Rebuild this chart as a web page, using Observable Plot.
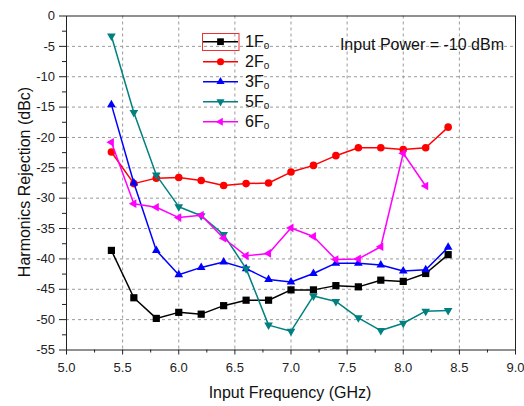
<!DOCTYPE html>
<html><head><meta charset="utf-8">
<script src="https://cdn.jsdelivr.net/npm/d3@7"></script>
<script src="https://cdn.jsdelivr.net/npm/@observablehq/plot@0.6"></script>
<style>
html,body{margin:0;padding:0;background:#fff;}
#chart{width:524px;height:406px;}
</style></head>
<body><div id="chart"></div>
<script>
// ---- data ----
const freq = [5.4, 5.6, 5.8, 6.0, 6.2, 6.4, 6.6, 6.8, 7.0, 7.2, 7.4, 7.6, 7.8, 8.0, 8.2, 8.4];
const f1 = [-38.6, -46.4, -49.8, -48.8, -49.1, -47.7, -46.8, -46.8, -45.1, -45.1, -44.4, -44.6, -43.5, -43.7, -42.4, -39.3];
const f2 = [-22.4, -27.6, -26.7, -26.6, -27.1, -27.9, -27.6, -27.5, -25.7, -24.6, -23.0, -21.7, -21.7, -22.0, -21.7, -18.3];
const f3 = [-14.6, -27.5, -38.6, -42.6, -41.4, -40.5, -41.6, -43.4, -43.8, -42.4, -40.7, -40.7, -41.0, -42.0, -41.8, -38.1];
const f5 = [-3.3, -15.9, -26.2, -31.4, -32.9, -36.0, -41.6, -50.9, -51.9, -46.1, -47.0, -49.7, -51.8, -50.6, -48.6, -48.5];
const f6 = [-20.8, -30.9, -31.5, -33.2, -32.8, -36.6, -39.5, -39.1, -34.9, -36.3, -40.1, -40.0, -38.0, -22.6, -28.0];
const seriesNames = ["1F", "2F", "3F", "5F", "6F"];
const seriesValues = [f1, f2, f3, f5, f6];
const seriesColors = ["#000000", "#ff0000", "#0000ff", "#008080", "#ff00ff"];
const xTicks = [5.0, 5.5, 6.0, 6.5, 7.0, 7.5, 8.0, 8.5, 9.0];
const xMinor = [5.25, 5.75, 6.25, 6.75, 7.25, 7.75, 8.25, 8.75];
const yTicks = [0, -5, -10, -15, -20, -25, -30, -35, -40, -45, -50, -55];
const yMinor = [-2.5, -7.5, -12.5, -17.5, -22.5, -27.5, -32.5, -37.5, -42.5, -47.5, -52.5];
const xTitle = "Input Frequency (GHz)";
const yTitle = "Harmonics Rejection (dBc)";
const note = "Input Power = -10 dBm";

// ---- symbols ----
function tri(a0, k) {
  return {draw(ctx, size) {
    const R = Math.sqrt(size / Math.PI) * k;
    for (let i = 0; i < 3; i++) {
      const a = a0 + i * 2 * Math.PI / 3;
      const x = R * Math.cos(a), y = R * Math.sin(a);
      i ? ctx.lineTo(x, y) : ctx.moveTo(x, y);
    }
    ctx.closePath();
  }};
}
const sqr = {draw(ctx, size) { const h = Math.sqrt(size / Math.PI) * 0.9; ctx.rect(-h, -h, 2 * h, 2 * h); }};
const circ = {draw(ctx, size) { const r = Math.sqrt(size / Math.PI) * 0.95; ctx.moveTo(r, 0); ctx.arc(0, 0, r, 0, 2 * Math.PI); }};
const symbols = [sqr, circ, tri(-Math.PI / 2, 1.25), tri(Math.PI / 2, 1.25), tri(Math.PI, 1.25)];

const marks = [
  Plot.gridX(xTicks.slice(1, -1), {stroke: "#9a9a9a", strokeOpacity: 1, strokeDasharray: "3,3", strokeWidth: 1}),
  Plot.gridY(yTicks.slice(1, -1), {stroke: "#9a9a9a", strokeOpacity: 1, strokeDasharray: "3,3", strokeWidth: 1}),
  Plot.axisX(xTicks, {tickSize: 5, tickPadding: 8, tickFormat: d => d.toFixed(1), fontSize: 13, fill: "#222", stroke: "#222", label: null}),
  Plot.axisX(xMinor, {tickSize: 3, tickFormat: () => "", stroke: "#222", label: null}),
  Plot.axisY(yTicks, {tickSize: 7, tickPadding: 4.5, tickFormat: d => String(d), fontSize: 13, fill: "#222", stroke: "#222", label: null}),
  Plot.axisY(yMinor, {tickSize: 4, tickFormat: () => "", stroke: "#222", label: null}),
];
seriesNames.forEach((name, i) => {
  const rows = seriesValues[i].map((v, j) => ({f: freq[j], v}));
  marks.push(Plot.line(rows, {x: "f", y: "v", stroke: seriesColors[i], strokeWidth: 1.5}));
  marks.push(Plot.dot(rows, {x: "f", y: "v", fill: seriesColors[i], stroke: "none", symbol: symbols[i], r: 4}));
});
marks.push(Plot.frame({stroke: "#222", strokeWidth: 1}));

const plot = Plot.plot({
  width: 524, height: 406,
  marginLeft: 66, marginRight: 9, marginTop: 15.5, marginBottom: 56.5,
  style: {fontFamily: "'Liberation Sans', Arial, sans-serif", background: "#fff"},
  x: {domain: [5, 9]},
  y: {domain: [-55, 0]},
  marks
});
document.getElementById("chart").appendChild(plot);

// ---- titles, note & legend ----
const svg = d3.select(plot);
svg.append("text").attr("x", 290).attr("y", 397.5).attr("text-anchor", "middle")
  .attr("font-size", 16).attr("fill", "#111").text(xTitle);
svg.append("text").attr("transform", "translate(30,182) rotate(-90)").attr("text-anchor", "middle")
  .attr("font-size", 16).attr("fill", "#111").text(yTitle);
svg.append("text").attr("x", 504).attr("y", 50).attr("text-anchor", "end")
  .attr("font-size", 16).attr("fill", "#111").text(note);

const lg = svg.append("g").attr("text-anchor", "start");
lg.append("rect").attr("x", 202.5).attr("y", 33.5).attr("width", 36.5).attr("height", 17)
  .attr("fill", "none").attr("stroke", "#f03030").attr("stroke-width", 1);
seriesNames.forEach((name, i) => {
  const y = 41.7 + i * 20;
  lg.append("line").attr("x1", 203).attr("x2", 238).attr("y1", y).attr("y2", y)
    .attr("stroke", seriesColors[i]).attr("stroke-width", 1.5);
  lg.append("path").attr("transform", `translate(220.5,${y})`)
    .attr("d", d3.symbol(symbols[i], Math.PI * 14)()).attr("fill", seriesColors[i]);
  const t = lg.append("text").attr("x", 245).attr("y", y + 5.6).attr("font-size", 16).attr("fill", "#111");
  t.append("tspan").text(name);
  t.append("tspan").attr("font-size", 10).attr("dy", 1.5).text("o");
});
</script>
</body></html>
